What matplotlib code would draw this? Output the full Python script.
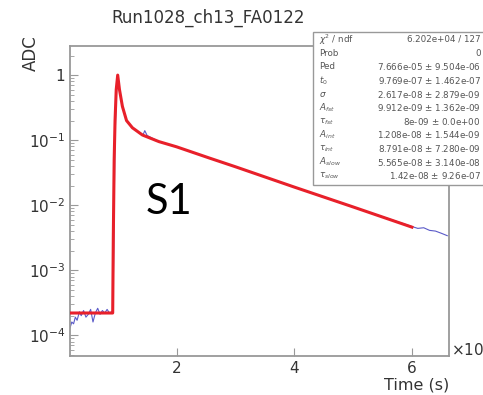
import numpy as np
import matplotlib.pyplot as plt

# Dane (czas w jednostkach 1e-7 s)
data_t = [0.19, 0.22, 0.25, 0.28, 0.31, 0.35, 0.38, 0.42, 0.46, 0.5, 0.54, 0.58, 0.62,
          0.66, 0.7, 0.74, 0.78, 0.82, 0.86, 0.9, 0.92, 0.935, 0.95, 0.965, 0.98, 1.0,
          1.03, 1.08, 1.15, 1.25, 1.35, 1.43, 1.46, 1.5, 1.7, 2.0, 2.56, 3.0, 4.0, 5.0,
          6.0, 6.1, 6.2, 6.3, 6.4, 6.5, 6.6]
data_adc = [1.3e-4, 1.6e-4, 1.5e-4, 1.9e-4, 1.7e-4, 2.3e-4, 2.0e-4, 2.4e-4, 1.9e-4,
            2.1e-4, 2.5e-4, 1.6e-4, 2.2e-4, 2.6e-4, 2.1e-4, 2.4e-4, 2.2e-4, 2.5e-4,
            2.2e-4, 2.3e-4, 2.4e-4, 3e-3, 0.06, 0.22, 0.55, 1.0,
            0.62, 0.34, 0.2, 0.155, 0.132, 0.12, 0.14, 0.118, 0.095, 0.079, 0.053,
            0.039, 0.019, 0.0094, 0.0047, 0.0044, 0.0045, 0.0041, 0.0040, 0.0037, 0.0034]

fit_t = [0.19, 0.915, 0.925, 0.94, 0.955, 0.975, 1.0, 1.03, 1.08, 1.15, 1.25, 1.42,
         1.7, 2.0, 2.56, 3.0, 4.0, 5.0, 6.0]
fit_adc = [2.2e-4, 2.2e-4, 3e-3, 0.05, 0.2, 0.6, 1.0, 0.6, 0.33, 0.2, 0.155, 0.12,
           0.095, 0.079, 0.053, 0.039, 0.019, 0.0094, 0.0046]

stat_names = [r"$\chi^2$ / ndf", "Prob", "Ped", r"$t_0$", r"$\sigma$", r"$A_{fst}$",
              r"$\tau_{fst}$", r"$A_{int}$", r"$\tau_{int}$", r"$A_{slow}$", r"$\tau_{slow}$"]
stat_values = ["6.202e+04 / 127", "0", "7.666e-05 $\\pm$ 9.504e-06",
               "9.769e-07 $\\pm$ 1.462e-07", "2.617e-08 $\\pm$ 2.879e-09",
               "9.912e-09 $\\pm$ 1.362e-09", "8e-09 $\\pm$ 0.0e+00",
               "1.208e-08 $\\pm$ 1.544e-09", "8.791e-08 $\\pm$ 7.280e-09",
               "5.565e-08 $\\pm$ 3.140e-08", "1.42e-08 $\\pm$ 9.26e-07"]

fig = plt.figure(figsize=(4.83, 3.95), dpi=100)
ax = fig.add_axes([0.145, 0.0987, 0.7846, 0.7848])

ax.plot(data_t, data_adc, color="#5a5ac8", lw=0.8, zorder=2)
ax.plot(fit_t, fit_adc, color="#e8202a", lw=2.2, zorder=3)

ax.set_yscale("log")
ax.set_xlim(0.19, 6.63)
ax.set_ylim(4.8e-5, 2.8)
ax.set_xticks([2, 4, 6])
ax.set_yticks([1e-4, 1e-3, 1e-2, 1e-1, 1])
ax.set_yticklabels(["$10^{-4}$", "$10^{-3}$", "$10^{-2}$", "$10^{-1}$", "1"])
ax.tick_params(which="both", direction="in", colors="#999999", labelcolor="#333333",
               labelsize=11, top=False, right=False)
ax.tick_params(which="major", length=6)
ax.tick_params(which="minor", length=3)
for s in ax.spines.values():
    s.set_color("#999999")
    s.set_linewidth(1.3)

ax.text(1.006, 0.02, r"$\times10^{-7}$", transform=ax.transAxes, fontsize=11,
        color="#333333", ha="left", va="center")
ax.set_xlabel("Time (s)", fontsize=11.5, color="#333333", loc="right", labelpad=1)
fig.text(0.064, 0.91, "ADC", fontsize=12, color="#333333", rotation=90,
         ha="center", va="top")
fig.text(0.43, 0.955, "Run1028_ch13_FA0122", fontsize=12, color="#333333",
         ha="center", va="center")
ax.text(1.88, 0.0111, "S1", fontsize=30, family="Lato", color="black",
        ha="center", va="center")

# Ramka statystyk dopasowania
box = plt.Rectangle((0.648, 0.532), 0.4, 0.388, transform=fig.transFigure,
                    facecolor="white", edgecolor="#999999", lw=1.0, zorder=5)
fig.patches.append(box)
y0 = 0.9
dy = 0.0345
for i, (n, v) in enumerate(zip(stat_names, stat_values)):
    fig.text(0.66, y0 - i * dy, n, fontsize=6.3, color="#555555", va="center", zorder=6)
    fig.text(0.995, y0 - i * dy, v, fontsize=6.3, color="#555555", va="center",
             ha="right", zorder=6)

plt.savefig("out.png", dpi=100)
